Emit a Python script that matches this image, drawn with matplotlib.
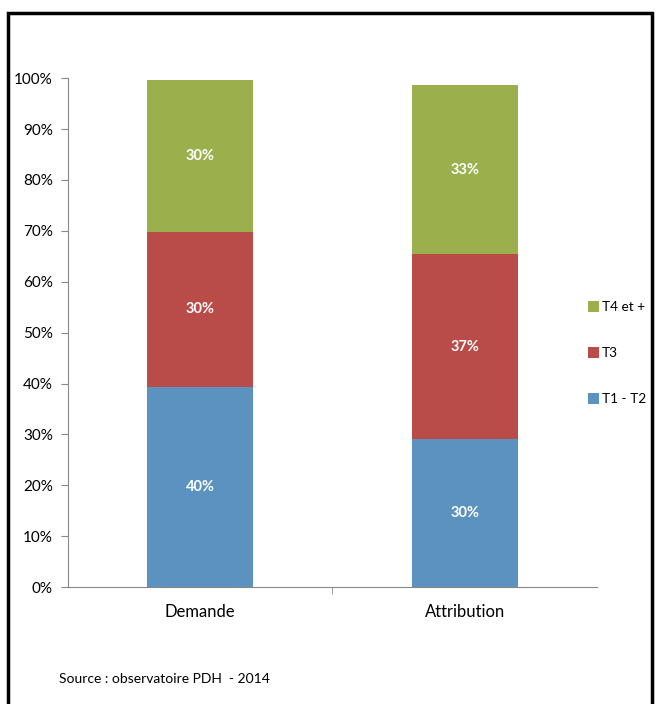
import numpy as np
import matplotlib.pyplot as plt
from matplotlib.patches import Rectangle

plt.rcParams['font.family'] = ['Lato', 'DejaVu Sans']

# data
categories = ['Demande', 'Attribution']
series = ['T1 - T2', 'T3', 'T4 et +']
t1_t2 = [39.4, 29.1]
t3 = [30.3, 36.3]
t4 = [29.9, 33.2]
t1_t2_lbl = ['40%', '30%']
t3_lbl = ['30%', '37%']
t4_lbl = ['30%', '33%']
colors = ['#5b92bf', '#b94b49', '#9bb04c']

fig = plt.figure(figsize=(6.61, 7.04), dpi=100)
ax = fig.add_axes([0.103, 0.166, 0.800, 0.723])

x = np.arange(len(categories))
w = 0.40
bottom = np.zeros(len(categories))
handles = []
for vals, lbls, c, name in zip([t1_t2, t3, t4], [t1_t2_lbl, t3_lbl, t4_lbl], colors, series):
    b = ax.bar(x, vals, w, bottom=bottom, color=c, label=name)
    handles.append(b)
    for xi, v, bt, l in zip(x, vals, bottom, lbls):
        ax.text(xi, bt + v / 2, l, ha='center', va='center', color='white',
                fontsize=10.5, fontweight='bold')
    bottom = bottom + np.array(vals)

ax.set_xlim(-0.5, 1.5)
ax.set_ylim(0, 100)
ax.set_yticks(np.arange(0, 101, 10))
ax.set_yticklabels([f'{v}%' for v in range(0, 101, 10)], fontsize=11)
ax.set_xticks(x)
ax.set_xticklabels(categories, fontsize=12)
ax.tick_params(axis='x', length=0, pad=12)
ax.set_xticks([0.5], minor=True)
ax.tick_params(axis='x', which='minor', length=5, color='#888888')
ax.tick_params(axis='y', length=5, color='#888888', pad=6)
for s in ['top', 'right']:
    ax.spines[s].set_visible(False)
for s in ['left', 'bottom']:
    ax.spines[s].set_color('#888888')

leg = fig.legend(handles[::-1], series[::-1], loc='center left',
                 bbox_to_anchor=(0.890, 0.498), frameon=False, fontsize=9.8,
                 handlelength=0.8, handleheight=0.8, handletextpad=0.2,
                 labelspacing=2.5, borderaxespad=0, borderpad=0)

fig.text(0.089, 0.030, 'Source : observatoire PDH  - 2014', fontsize=10)

# black frame around the picture
fig.patches.append(Rectangle((0.012, -0.05), 0.975, 1.032, transform=fig.transFigure,
                             fill=False, edgecolor='black', linewidth=2.5))

fig.savefig('out.png', dpi=100)
